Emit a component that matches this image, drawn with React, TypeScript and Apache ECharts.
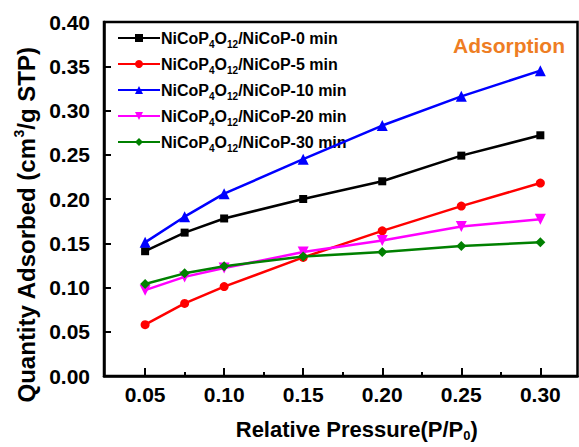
import React, { useEffect, useRef } from "react";
import * as echarts from "echarts";

const pressure = [0.05, 0.075, 0.1, 0.15, 0.2, 0.25, 0.3];
const times = ["0", "5", "10", "20", "30"];
const series0 = [0.141, 0.162, 0.178, 0.2, 0.22, 0.249, 0.272];
const series5 = [0.058, 0.082, 0.101, 0.134, 0.164, 0.192, 0.218];
const series10 = [0.151, 0.18, 0.206, 0.245, 0.283, 0.316, 0.345];
const series20 = [0.097, 0.112, 0.122, 0.14, 0.153, 0.169, 0.177];
const series30 = [0.104, 0.116, 0.124, 0.135, 0.14, 0.147, 0.151];
const majorTicks = [0.05, 0.1, 0.15, 0.2, 0.25, 0.3];
const minorTicks = [0.075, 0.125, 0.175, 0.225, 0.275];

const colors = ["#000000", "#ff0000", "#0000ff", "#ff00ff", "#008000"];
const symbols = ["rect", "circle", "triangle", "triangle", "diamond"];
const symbolSizes = [8, 9, 11, 11, 10];
const symbolRotates = [0, 0, 0, 180, 0];
const allSeries = [series0, series5, series10, series20, series30];

const FONT = "'Liberation Sans', Arial, sans-serif";

export default function App() {
  const ref = useRef<HTMLDivElement>(null);
  useEffect(() => {
    if (!ref.current) return;
    const chart = echarts.init(ref.current, null, { renderer: "svg" });
    const names = times.map((t) => `NiCoP4O12/NiCoP-${t} min`);
    chart.setOption({
      animation: false,
      textStyle: { fontFamily: FONT },
      grid: {
        left: 104,
        right: 1.5,
        top: 22,
        bottom: 69.5,
        show: true,
        borderColor: "#000",
        borderWidth: 2.5,
      },
      legend: {
        orient: "vertical",
        left: 112,
        top: 25,
        itemWidth: 42,
        itemHeight: 10,
        itemGap: 7,
        data: names,
        formatter: (name: string) => {
          const t = name.split("-")[1];
          return `{t|NiCoP}{s|4}{t|O}{s|12}{t|/NiCoP-${t}}`;
        },
        textStyle: {
          fontFamily: FONT,
          fontWeight: "bold",
          fontSize: 16,
          color: "#000",
          padding: [0, 0, 0, -4],
          rich: {
            t: {
              fontFamily: FONT,
              fontWeight: "bold",
              fontSize: 16,
              lineHeight: 22,
              verticalAlign: "middle",
              color: "#000",
            },
            s: {
              fontFamily: FONT,
              fontWeight: "bold",
              fontSize: 10,
              lineHeight: 10,
              verticalAlign: "bottom",
              color: "#000",
            },
          },
        },
      },
      graphic: [
        {
          type: "text",
          right: 14,
          top: 35,
          style: {
            text: "Adsorption",
            fill: "#ee7d23",
            font: `bold 21px ${FONT}`,
          },
        },
      ],
      xAxis: [
        {
          type: "value",
          min: 0.024,
          max: 0.3235,
          position: "bottom",
          name: "{t|Relative Pressure(P/P}{s|0}{t|)}",
          nameLocation: "middle",
          nameGap: 40,
          nameTextStyle: {
            padding: [0, 0, 0, 32],
            rich: {
              t: { fontFamily: FONT, fontWeight: "bold", fontSize: 22, lineHeight: 26, verticalAlign: "middle", color: "#000" },
              s: { fontFamily: FONT, fontWeight: "bold", fontSize: 13, lineHeight: 13, verticalAlign: "bottom", color: "#000" },
            },
          },
          axisLine: { show: true, onZero: false, lineStyle: { color: "#000", width: 2.5 } },
          axisTick: { show: true, inside: true, length: 8, customValues: majorTicks, lineStyle: { color: "#000", width: 2 } },
          axisLabel: {
            customValues: majorTicks,
            formatter: (v: number) => v.toFixed(2),
            fontFamily: FONT,
            fontWeight: "bold",
            fontSize: 21,
            color: "#000",
            margin: 8,
          },
          splitLine: { show: false },
        },
        {
          type: "value",
          min: 0.024,
          max: 0.3235,
          position: "bottom",
          axisLine: { show: false },
          axisTick: { show: true, inside: true, length: 4, customValues: minorTicks, lineStyle: { color: "#000", width: 2 } },
          axisLabel: { show: false },
          splitLine: { show: false },
        },
      ],
      yAxis: {
        type: "value",
        min: 0,
        max: 0.4,
        interval: 0.05,
        name: "{t|Quantity Adsorbed (cm}{p|3}{t|/g STP)}",
        nameLocation: "middle",
        nameGap: 64,
        nameTextStyle: {
          padding: [0, 52, 0, 0],
          rich: {
            t: { fontFamily: FONT, fontWeight: "bold", fontSize: 24, lineHeight: 28, verticalAlign: "middle", color: "#000" },
            p: { fontFamily: FONT, fontWeight: "bold", fontSize: 14, lineHeight: 14, verticalAlign: "top", color: "#000" },
          },
        },
        axisLine: { show: true, onZero: false, lineStyle: { color: "#000", width: 2.5 } },
        axisTick: { show: true, inside: true, length: 7, lineStyle: { color: "#000", width: 2 } },
        axisLabel: {
          formatter: (v: number) => v.toFixed(2),
          fontFamily: FONT,
          fontWeight: "bold",
          fontSize: 21,
          color: "#000",
          margin: 14,
        },
        splitLine: { show: false },
      },
      series: allSeries.map((vals, i) => ({
        name: names[i],
        type: "line",
        xAxisIndex: 0,
        data: vals.map((v, j) => [pressure[j], v]),
        symbol: symbols[i],
        symbolSize: symbolSizes[i],
        symbolRotate: symbolRotates[i],
        showAllSymbol: true,
        lineStyle: { color: colors[i], width: 2.5 },
        itemStyle: { color: colors[i] },
        z: 2 + i,
      })),
    });
    return () => chart.dispose();
  }, []);
  return <div ref={ref} style={{ width: 579, height: 447, position: "absolute", left: 0, top: 0 }} />;
}
